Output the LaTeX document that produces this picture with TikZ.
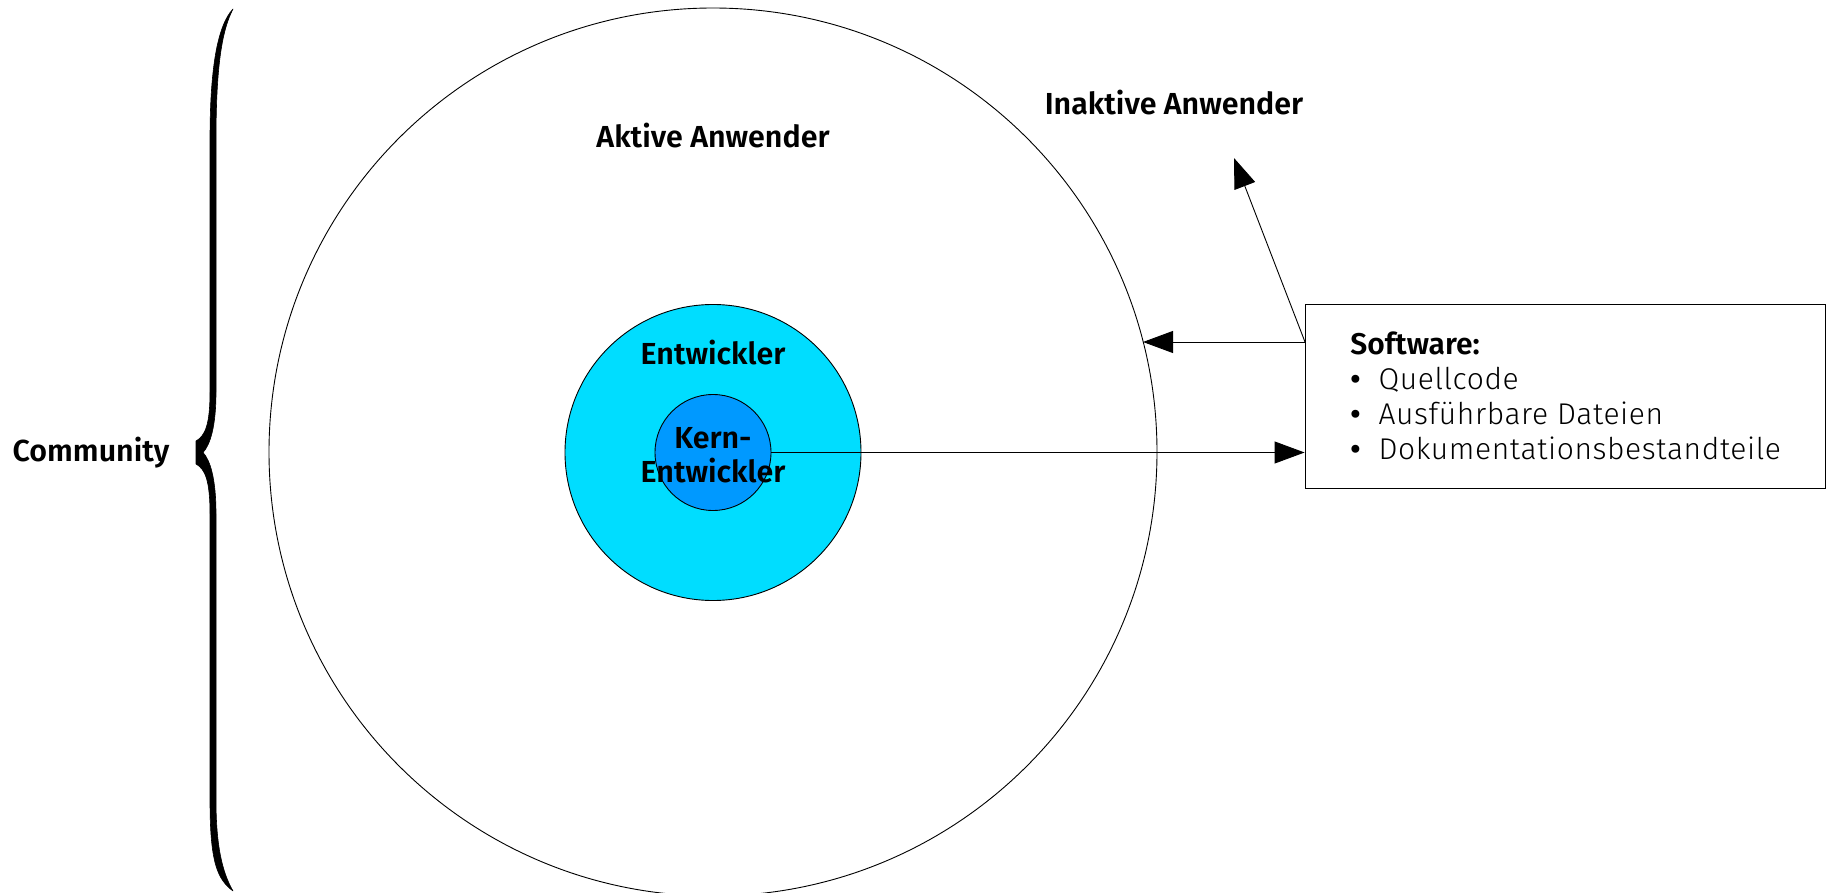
\documentclass[tikz,border=0pt]{standalone}
\usepackage{fontspec}
\setmainfont{Fira Sans}[BoldFont={Fira Sans SemiBold}]
\newfontfamily\lightfont{Fira Sans Light}[LetterSpace=2]
\usetikzlibrary{arrows.meta}
\definecolor{cyanmid}{RGB}{0,221,255}
\definecolor{bluein}{RGB}{0,153,255}
\tikzset{
  ring/.style={circle, draw=black, line width=0.45pt, inner sep=0pt},
  heading/.style={font=\fontsize{15.2}{17}\selectfont\bfseries, inner sep=0pt, align=center},
  conn/.style={line width=0.45pt, -{Triangle[length=15pt,width=11pt]}},
  bracestyle/.style={fill=black, draw=black, line width=0.3pt, line join=round}
}
\begin{document}
\begin{tikzpicture}[x=0.5pt,y=-0.5pt]
\useasboundingbox (0,0) rectangle (1827,893);
% circles
\node[ring, minimum size=444pt] (outer) at (713,452) {};
\node[ring, fill=cyanmid, minimum size=148pt] (mid) at (713,452.5) {};
\node[ring, fill=bluein, minimum size=58pt] (inner) at (713,452.5) {};
% labels
\node[heading] (aktiv) at (713,136) {Aktive Anwender};
\node[heading] (inaktiv) at (1174,103) {Inaktive Anwender};
\node[heading] (entw) at (713,353) {Entwickler};
\node[heading] (kern) at (713,455) {Kern-\\Entwickler};
\node[heading] (comm) at (91,453) {Community};
% software box
\node[draw=black, line width=0.45pt, minimum width=260pt, minimum height=92pt, inner sep=0pt] (box) at (1565,396) {};
\node[anchor=north west, inner sep=0pt] (swtext) at (1350,330) {%
  \fontsize{15}{17.5}\selectfont
  \begin{tabular}{@{}l@{\hspace{9pt}}l@{}}
  \multicolumn{2}{@{}l@{}}{\bfseries Software:}\\
  {\bfseries\textbullet} & \lightfont Quellcode\\
  {\bfseries\textbullet} & \lightfont Ausführbare Dateien\\
  {\bfseries\textbullet} & \lightfont Dokumentationsbestandteile
  \end{tabular}};
% connectors
\coordinate (s) at (1305,342);
\coordinate (ringhit) at (1143,342);
\coordinate (inaktivtip) at (1234,158);
\draw[conn] (inner.east) -- (box.west |- inner.east);
\draw[conn] (s) -- (ringhit);
\draw[conn] (s) -- (inaktivtip);
% brace (filled, tapered)
\draw[bracestyle] (233,9)
  .. controls (217,26) and (210,70) .. (210,140) -- (210,392)
  .. controls (210,425) and (205,436) .. (196,441) -- (196,464)
  .. controls (205,469) and (210,480) .. (210,514) -- (210,800)
  .. controls (210,862) and (217,879) .. (233,891)
  .. controls (222,872) and (216,845) .. (216,800) -- (216,514)
  .. controls (216,478) and (210,460) .. (203,452.5)
  .. controls (210,445) and (216,427) .. (216,392) -- (216,140)
  .. controls (216,66) and (222,30) .. (233,9) -- cycle;
\end{tikzpicture}
\end{document}
